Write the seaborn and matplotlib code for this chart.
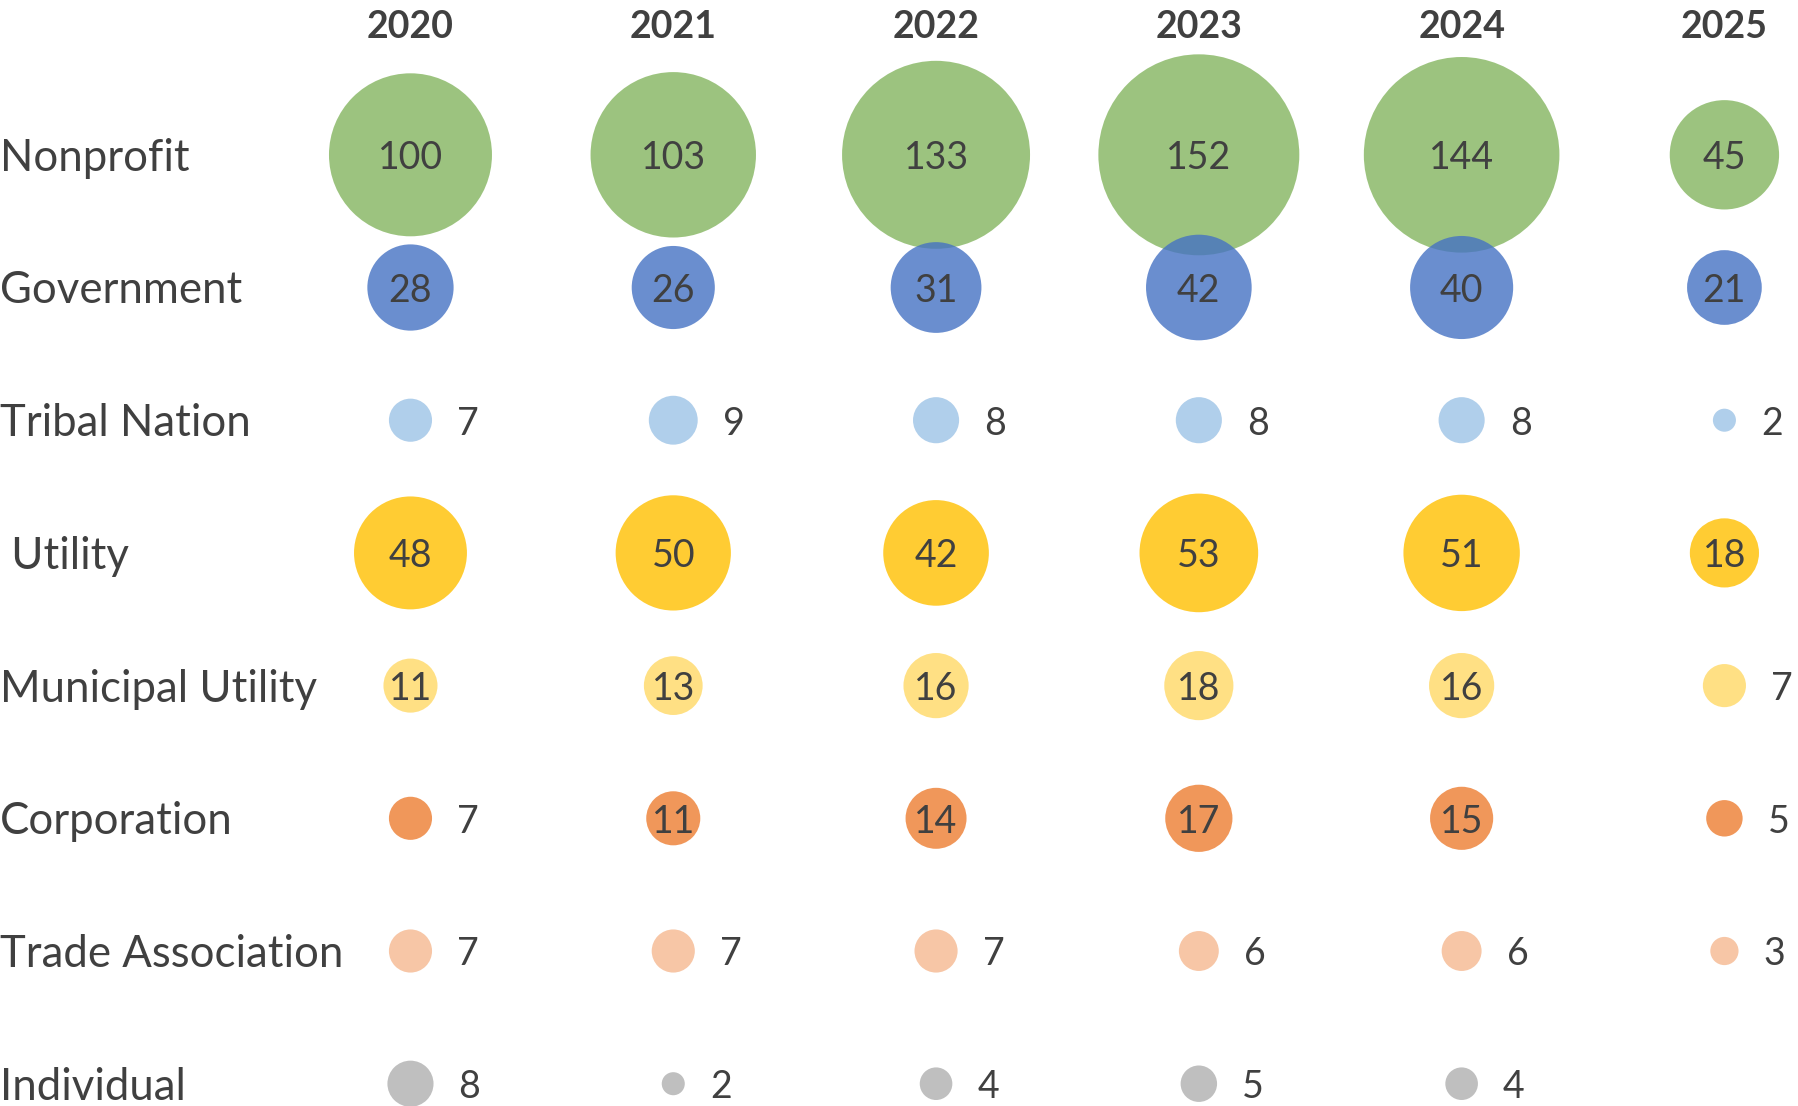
import numpy as np
import pandas as pd
import matplotlib
matplotlib.use("Agg")
import matplotlib.pyplot as plt
import seaborn as sns

# datos
years = ["2020", "2021", "2022", "2023", "2024", "2025"]
categories = ["Nonprofit", "Government", "Tribal Nation", "Utility",
              "Municipal Utility", "Corporation", "Trade Association", "Individual"]
row_labels = ["Nonprofit", "Government", "Tribal Nation", " Utility",
              "Municipal Utility", "Corporation", "Trade Association", "Individual"]

nonprofit = [100, 103, 133, 152, 144, 45]
government = [28, 26, 31, 42, 40, 21]
tribal_nation = [7, 9, 8, 8, 8, 2]
utility = [48, 50, 42, 53, 51, 18]
municipal_utility = [11, 13, 16, 18, 16, 7]
corporation = [7, 11, 14, 17, 15, 5]
trade_association = [7, 7, 7, 6, 6, 3]
individual = [8, 2, 4, 5, 4, None]

colores = ["#84B55F", "#4572C3", "#9DC3E6", "#FFC000",
           "#FFD966", "#ED7D31", "#F5B890", "#AFAFAF"]

series = [nonprofit, government, tribal_nation, utility,
          municipal_utility, corporation, trade_association, individual]

filas = []
for cat, vals in zip(categories, series):
    for yr, v in zip(years, vals):
        if v is not None:
            filas.append({"year": yr, "category": cat, "value": v})
df = pd.DataFrame(filas)

sns.set_theme(style="white")
plt.rcParams["font.family"] = ["Lato", "DejaVu Sans"]

fig = plt.figure(figsize=(17.98, 11.06), dpi=100)
ax = fig.add_axes([0, 0, 1, 1])

px_per_unit = 16.3 * 0.72  # diametro (pt) por sqrt(valor)
vmax = df["value"].max()
sns.scatterplot(data=df, x="year", y="category", hue="category", size="value",
                sizes=(0, px_per_unit ** 2 * vmax), size_norm=(0, vmax),
                palette=dict(zip(categories, colores)), alpha=0.8,
                linewidth=0, legend=False, ax=ax)

ax.set_xlim(-1.562, 5.280)
ax.set_ylim(7.168, -1.1666)
ax.set_axis_off()

txt = "#404040"
dy = -2.5  # bajar un poco el texto (pt)
for i, yr in enumerate(years):
    ax.annotate(yr, (i, -0.993), xytext=(0, dy), textcoords="offset points",
                ha="center", va="center", fontsize=27, fontweight="bold", color=txt)

for j, lab in enumerate(row_labels):
    ax.annotate(lab, (0.0, j), xycoords=ax.get_yaxis_transform(), xytext=(0, dy),
                textcoords="offset points", ha="left", va="center",
                fontsize=31.5, color=txt)

for j, vals in enumerate(series):
    for i, v in enumerate(vals):
        if v is None:
            continue
        if v >= 10:
            ax.annotate(str(v), (i, j), xytext=(0, dy), textcoords="offset points",
                        ha="center", va="center", fontsize=27, color=txt)
        else:
            r_px = 16.3 * np.sqrt(v) / 2
            ax.annotate(str(v), (i, j), xytext=((r_px + 25) * 0.72, dy),
                        textcoords="offset points", ha="left", va="center",
                        fontsize=27, color=txt)

fig.savefig("out.png", dpi=100)
